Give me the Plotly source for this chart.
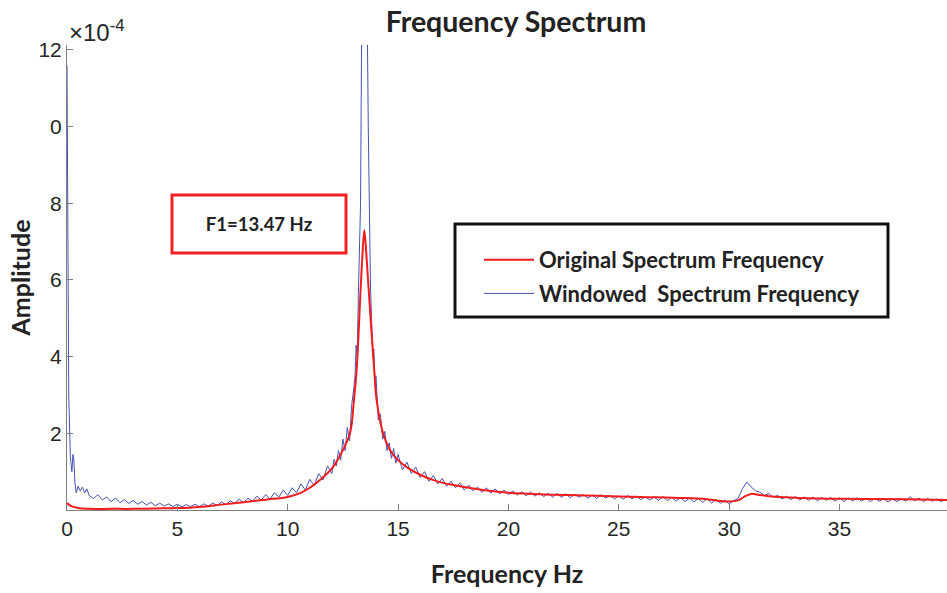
import plotly.graph_objects as go

# ---- data (amplitudes in units of 1e-4) ----
orig_freq = [0, 0.2, 0.5, 1, 2, 3, 4, 5, 6, 7, 8, 9, 10, 10.56, 11, 11.5, 12.05, 12.4, 12.82, 13.0,
             13.13, 13.28, 13.38, 13.47, 13.56, 13.7, 13.91, 14.03, 14.32, 14.64, 15.0, 15.39, 16.0,
             16.6, 17.5, 18.85, 20, 22, 24, 26, 28, 29, 30, 30.4, 30.7, 31.0, 31.3, 31.8, 32.5, 34,
             36, 38, 39.9]
orig_amp = [0.18, 0.1, 0.05, 0.03, 0.03, 0.03, 0.04, 0.05, 0.08, 0.14, 0.2, 0.27, 0.34, 0.44, 0.58,
            0.8, 1.12, 1.45, 2.0, 2.86, 3.72, 5.47, 6.6, 7.3, 6.7, 5.47, 3.72, 2.86, 2.0, 1.56, 1.3,
            1.12, 0.92, 0.78, 0.65, 0.52, 0.45, 0.4, 0.37, 0.34, 0.31, 0.28, 0.22, 0.25, 0.35, 0.42,
            0.4, 0.36, 0.33, 0.3, 0.29, 0.28, 0.26]

win_freq = [0, 0.03, 0.08, 0.15, 0.22, 0.27, 0.31, 0.36, 0.42, 0.5, 0.6, 0.7, 0.8, 0.9, 1.0,
            1.2, 1.4, 1.6, 1.8, 2.0, 2.2, 2.4, 2.6, 2.8, 3.0, 3.2, 3.4, 3.6, 3.8, 4.0, 4.2, 4.4, 4.6,
            4.8, 5.0, 5.2, 5.4, 5.6, 5.8, 6.0, 6.2, 6.4, 6.6, 6.8, 7.0, 7.2, 7.4, 7.6, 7.8, 8.0, 8.2,
            8.4, 8.6, 8.8, 9.0, 9.2, 9.4, 9.6, 9.8, 10.0, 10.2, 10.4, 10.6, 10.8, 11.0, 11.2, 11.4,
            11.6, 11.8, 12.0, 12.1, 12.2, 12.3, 12.4, 12.5, 12.6, 12.7, 12.8, 12.9, 13.0, 13.05,
            13.1, 13.15, 13.2, 13.25, 13.3, 13.35, 13.4, 13.45, 13.5, 13.55, 13.6, 13.65, 13.7,
            13.75, 13.8, 13.85, 13.9, 13.95, 14.0, 14.1, 14.2, 14.3, 14.4, 14.5, 14.6, 14.7, 14.8,
            14.9, 15.0, 15.2, 15.4, 15.6, 15.8, 16.0, 16.2, 16.4, 16.6, 16.8, 17.0, 17.2, 17.4,
            17.6, 17.8, 18.0, 18.2, 18.4, 18.6, 18.8, 19.0, 19.2, 19.4, 19.6, 19.8, 20.0, 20.2,
            20.4, 20.6, 20.8, 21.0, 21.2, 21.4, 21.6, 21.8, 22.0, 22.2, 22.4, 22.6, 22.8, 23.0,
            23.2, 23.4, 23.6, 23.8, 24.0, 24.2, 24.4, 24.6, 24.8, 25.0, 25.2, 25.4, 25.6, 25.8,
            26.0, 26.2, 26.4, 26.6, 26.8, 27.0, 27.2, 27.4, 27.6, 27.8, 28.0, 28.2, 28.4, 28.6,
            28.8, 29.0, 29.2, 29.4, 29.6, 29.8, 30.0, 30.2, 30.4, 30.6, 30.8, 31.0, 31.2, 31.4,
            31.6, 31.8, 32.0, 32.2, 32.4, 32.6, 32.8, 33.0, 33.2, 33.4, 33.6, 33.8, 34.0, 34.2,
            34.4, 34.6, 34.8, 35.0, 35.2, 35.4, 35.6, 35.8, 36.0, 36.2, 36.4, 36.6, 36.8, 37.0,
            37.2, 37.4, 37.6, 37.8, 38.0, 38.2, 38.4, 38.6, 38.8, 39.0, 39.2, 39.4, 39.6, 39.8]
win_amp = [11.6, 8.0, 3.0, 1.4, 1.0, 1.45, 1.3, 0.7, 0.45, 0.62, 0.5, 0.6, 0.45, 0.55, 0.38,
           0.30, 0.40, 0.26, 0.34, 0.22, 0.31, 0.19, 0.27, 0.17, 0.25, 0.15, 0.22, 0.13, 0.20,
           0.11, 0.18, 0.10, 0.16, 0.09, 0.15, 0.08, 0.14, 0.09, 0.15, 0.08, 0.16, 0.10, 0.18,
           0.12, 0.21, 0.14, 0.24, 0.17, 0.28, 0.19, 0.31, 0.22, 0.36, 0.26, 0.40, 0.29, 0.45,
           0.34, 0.52, 0.38, 0.58, 0.45, 0.68, 0.52, 0.80, 0.64, 0.95, 0.78, 1.15,
           0.95, 1.32, 1.15, 1.55, 1.30, 1.85, 1.55, 2.15, 1.80, 2.75, 3.2, 3.5, 4.3, 4.0, 5.6,
           6.5, 8.0, 12.5, 14.5, 15.0, 15.0, 14.5, 13.0, 10.0, 7.4, 5.8, 5.0, 4.0, 4.2, 3.4, 3.5,
           2.35, 2.5, 1.85, 2.05, 1.55, 1.75, 1.35, 1.6, 1.22, 1.45,
           1.05, 1.25, 0.95, 1.12, 0.85, 1.0, 0.75, 0.9, 0.68, 0.82, 0.62, 0.75, 0.58, 0.7, 0.52,
           0.65, 0.5, 0.6, 0.46, 0.58, 0.44, 0.55, 0.42, 0.52, 0.4, 0.5, 0.39, 0.48, 0.37, 0.47,
           0.36, 0.45, 0.35, 0.44, 0.34, 0.43, 0.33, 0.42, 0.32, 0.41, 0.33, 0.4, 0.31, 0.39, 0.3,
           0.4, 0.31, 0.38, 0.29, 0.37, 0.28, 0.38, 0.29, 0.36, 0.27, 0.35, 0.26, 0.34, 0.25,
           0.35, 0.24, 0.33, 0.23, 0.32, 0.22, 0.31, 0.21, 0.3, 0.2, 0.29, 0.18, 0.28, 0.17,
           0.26, 0.15, 0.24, 0.3, 0.55, 0.73, 0.6, 0.5, 0.46, 0.38, 0.43, 0.33, 0.38, 0.29, 0.36,
           0.27, 0.35, 0.26, 0.34, 0.25, 0.34, 0.24, 0.33, 0.25, 0.33, 0.23, 0.32, 0.22, 0.31,
           0.24, 0.32, 0.23, 0.31, 0.22, 0.3, 0.23, 0.3, 0.21, 0.29, 0.22, 0.3, 0.23, 0.35, 0.24,
           0.31, 0.22, 0.3, 0.23, 0.29, 0.22, 0.28]

x_ticks = [0, 5, 10, 15, 20, 25, 30, 35]
y_ticks = [2, 4, 6, 8, 10, 12]
y_tick_labels = ["2", "4", "6", "8", "0", "12"]

title_text = "Frequency Spectrum"
x_title = "Frequency Hz"
y_title = "Amplitude"
peak_label = "F1=13.47 Hz"

# ---- figure ----
W, H = 947, 593
ML, MR, MT, MB = 67, 0, 45, 83
PW, PH = W - ML - MR, H - MT - MB

def px(xp):
    return (xp - ML) / PW

def py(yp):
    return (H - MB - yp) / PH

fig = go.Figure()
fig.add_trace(go.Scatter(x=win_freq, y=win_amp, mode="lines",
                         name="Windowed  Spectrum Frequency",
                         line=dict(color="#4352B4", width=1),
                         legendgroup="b", legendrank=2))
fig.add_trace(go.Scatter(x=orig_freq, y=orig_amp, mode="lines",
                         name="Original Spectrum Frequency",
                         line=dict(color="#F21C1C", width=2, shape="spline"),
                         legendgroup="a", legendrank=1))

tick_font = dict(family="Liberation Sans, Arial", size=21, color="#262626")
bold_font = "Lato, Noto Sans, sans-serif"

fig.update_layout(
    width=W, height=H,
    margin=dict(l=ML, r=MR, t=MT, b=MB, autoexpand=False),
    paper_bgcolor="white", plot_bgcolor="white",
    showlegend=True,
    legend=dict(x=px(479), y=py(277), xanchor="left", yanchor="middle",
                bgcolor="rgba(0,0,0,0)", borderwidth=0, itemwidth=50,
                font=dict(family=bold_font, size=22, color="#222222", weight="bold"),
                tracegroupgap=2),
    title=dict(text="<b>" + title_text + "</b>", xref="container", x=516 / W,
               xanchor="center", y=1 - 22 / H, yanchor="middle",
               font=dict(family=bold_font, size=28.5, color="#222222")),
)

fig.update_xaxes(range=[0, 39.87], tickvals=x_ticks, ticks="inside", ticklen=6,
                 tickcolor="#808080", showline=True, linecolor="#808080", linewidth=1,
                 showgrid=False, zeroline=False, tickfont=tick_font, automargin=False,
                 title=dict(text="<b>" + x_title + "</b>", standoff=26,
                            font=dict(family=bold_font, size=25, color="#222222")))
fig.update_yaxes(range=[0, 12.13], tickvals=y_ticks, ticktext=y_tick_labels,
                 ticks="inside", ticklen=6, tickcolor="#808080", showline=True,
                 linecolor="#808080", linewidth=1, showgrid=False, zeroline=False,
                 tickfont=tick_font, automargin=False,
                 title=dict(text="<b>" + y_title + "</b>", standoff=0,
                            font=dict(family=bold_font, size=25, color="#222222")))

# exponent label
fig.add_annotation(xref="paper", yref="paper", x=px(67), y=py(31), xanchor="left",
                   yanchor="middle", showarrow=False, text="×10<sup>-4</sup>",
                   font=dict(family="Liberation Sans, Arial", size=24, color="#262626"))

# legend frame
fig.add_shape(type="rect", xref="paper", yref="paper",
              x0=px(455), x1=px(888), y0=py(317), y1=py(224),
              line=dict(color="#111111", width=3), fillcolor="rgba(0,0,0,0)")

# peak label box
fig.add_shape(type="rect", xref="paper", yref="paper",
              x0=px(172), x1=px(346), y0=py(253), y1=py(195),
              line=dict(color="#EE2222", width=3), fillcolor="white")
fig.add_annotation(xref="paper", yref="paper", x=px(259), y=py(224), showarrow=False,
                   xanchor="center", yanchor="middle", width=170, align="center",
                   text="<b>" + peak_label + "</b>",
                   font=dict(family=bold_font, size=18.5, color="#222222"))

fig.write_html("out.html", config={"displayModeBar": False},
               post_script="document.body.style.margin='0';document.body.style.overflow='hidden';")
